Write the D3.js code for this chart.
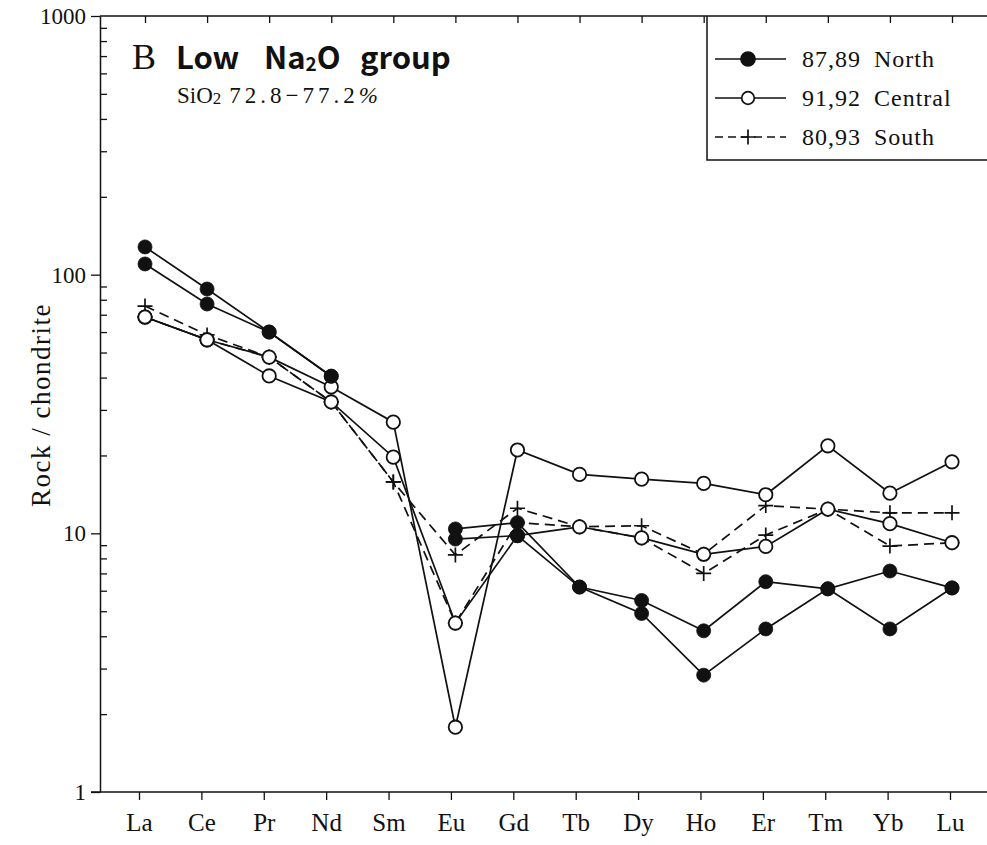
<!DOCTYPE html>
<html>
<head>
<meta charset="utf-8">
<script src="https://cdn.jsdelivr.net/npm/d3@7"></script>
<style>
  body { margin: 0; background: #fff; }
  svg { display: block; }
  text { fill: #111; }
</style>
</head>
<body>
<svg id="chart"></svg>
<script>
// REE pattern, chondrite normalised
let elements = ['La','Ce','Pr','Nd','Sm','Eu','Gd','Tb','Dy','Ho','Er','Tm','Yb','Lu'];
let north87 = [128, 88, 60, 40.5, null, 10.4, 11.0, 6.2, 5.5, 4.2, 6.5, 6.1, 7.15, 6.15];
let north89 = [110, 77, 60, 40.5, null, 9.5, 9.8, 6.2, 4.9, 2.83, 4.27, 6.1, 4.27, 6.15];
let central91 = [68.6, 56, 48, 36.8, 26.9, 1.78, 21, 16.9, 16.2, 15.6, 14.1, 21.8, 14.3, 18.9];
let central92 = [68.6, 56, 40.6, 32.2, 19.7, 4.5, 9.8, 10.6, 9.6, 8.3, 8.9, 12.4, 10.9, 9.2];
let south80 = [75.6, 58.5, 48, 32.2, 15.8, 8.25, 12.5, 10.6, 10.7, 8.3, 12.8, 12.4, 12.0, 12.0];
let south93 = [68.6, 56, 48, 32.2, 15.8, 4.5, 11.0, 10.6, 9.6, 7.0, 9.85, 12.4, 8.93, 9.2];
let yTicks = [1, 10, 100, 1000];
let legendLabels = ['87,89 North', '91,92 Central', '80,93 South'];

let w = 987;
let h = 845;
let mLeft = 100, mTop = 16, mBottom = 792, mRight = 987;
let svg = d3.select('#chart').attr('width', w).attr('height', h);

let xScale = d3.scalePoint().domain(elements).range([145, 952]);
let xBottom = d3.scalePoint().domain(elements).range([139, 950]); // labels sit a touch left in the scan
let yScale = d3.scaleLog().domain([1, 1000]).range([mBottom, mTop]);

let serif = '"Liberation Serif", "DejaVu Serif", serif';
let sans = '"Noto Sans CJK JP", "DejaVu Sans", sans-serif';

// frame lines (right side is cut off in the original)
svg.append('line').attr('x1', mLeft).attr('x2', mRight).attr('y1', mTop).attr('y2', mTop)
  .attr('stroke', '#111').attr('stroke-width', 1.5);

// bottom axis
let xAxis = d3.axisBottom(xBottom).tickSize(8).tickPadding(10).tickSizeOuter(0);
let gx = svg.append('g').attr('transform', 'translate(0,' + mBottom + ')').call(xAxis);
gx.select('.domain').attr('d', 'M' + (mLeft - 9) + ',0H' + mRight).attr('stroke', '#111').attr('stroke-width', 1.5);
gx.selectAll('.tick line').attr('stroke', '#111').attr('stroke-width', 1.3);
gx.selectAll('.tick text').attr('font-family', serif).attr('font-size', 25).attr('dy', '0.85em');

// top ticks, pointing in
let topAxis = d3.axisBottom(xScale).tickSize(7).tickFormat('').tickSizeOuter(0);
let gt = svg.append('g').attr('transform', 'translate(0,' + mTop + ')').call(topAxis);
gt.select('.domain').remove();
gt.selectAll('.tick line').attr('stroke', '#111').attr('stroke-width', 1.3);

// left axis: majors outside, minors inside
let minor = [];
for (let d = 1; d < 1000; d *= 10) {
  for (let k = 2; k <= 9; k++) minor.push(d * k);
}
let yAxis = d3.axisLeft(yScale).tickValues(yTicks).tickSize(9).tickPadding(5)
  .tickFormat(d3.format('d')).tickSizeOuter(0);
let gy = svg.append('g').attr('transform', 'translate(' + mLeft + ',0)').call(yAxis);
gy.select('.domain').attr('stroke', '#111').attr('stroke-width', 1.5);
gy.selectAll('.tick line').attr('stroke', '#111').attr('stroke-width', 1.3);
gy.selectAll('.tick text').attr('font-family', serif).attr('font-size', 23);

let yMinor = d3.axisRight(yScale).tickValues(minor).tickSize(7).tickFormat('').tickSizeOuter(0);
let gm = svg.append('g').attr('transform', 'translate(' + mLeft + ',0)').call(yMinor);
gm.select('.domain').remove();
gm.selectAll('.tick line').attr('stroke', '#111').attr('stroke-width', 1.3);

svg.append('text')
  .attr('transform', 'translate(50,405) rotate(-90)')
  .attr('text-anchor', 'middle')
  .attr('font-family', serif).attr('font-size', 27).attr('letter-spacing', 1.5)
  .text('Rock / chondrite');

// series
let series = [
  {vals: south80, dash: '10,6', mark: 'plus'},
  {vals: south93, dash: '10,6', mark: 'plus'},
  {vals: central91, dash: null, mark: 'open'},
  {vals: central92, dash: null, mark: 'open'},
  {vals: north87, dash: null, mark: 'filled'},
  {vals: north89, dash: null, mark: 'filled'}
];

let line = d3.line()
  .defined(d => d != null)
  .x((d, i) => xScale(elements[i]))
  .y(d => yScale(d));

series.forEach(s => {
  svg.append('path')
    .attr('d', line(s.vals))
    .attr('fill', 'none')
    .attr('stroke', '#111')
    .attr('stroke-width', 1.7)
    .attr('stroke-dasharray', s.dash);
});

let pts = s => s.vals.map((v, i) => ({x: xScale(elements[i]), v: v})).filter(p => p.v != null);

let drawPlus = (g, x, y, a) => {
  g.append('path')
    .attr('d', 'M' + (x - a) + ',' + y + 'H' + (x + a) + 'M' + x + ',' + (y - a) + 'V' + (y + a))
    .attr('stroke', '#111').attr('stroke-width', 1.7);
};

['plus', 'open', 'filled'].forEach(kind => {
  series.filter(s => s.mark === kind).forEach(s => {
    pts(s).forEach(p => {
      let y = yScale(p.v);
      if (kind === 'plus') drawPlus(svg, p.x, y, 7.5);
      else svg.append('circle').attr('cx', p.x).attr('cy', y)
        .attr('r', kind === 'open' ? 6.7 : 7)
        .attr('fill', kind === 'open' ? '#fff' : '#111')
        .attr('stroke', '#111').attr('stroke-width', kind === 'open' ? 1.8 : 0.8);
    });
  });
});

// title
svg.append('text').attr('x', 132).attr('y', 69)
  .attr('font-family', serif).attr('font-size', 36).text('B');
let tg = svg.append('g').attr('font-family', sans).attr('font-weight', 700).attr('font-size', 31);
tg.append('text').attr('x', 176).attr('y', 69).text('Low');
let na = tg.append('text').attr('x', 264).attr('y', 69);
na.append('tspan').text('Na');
na.append('tspan').attr('font-size', 19).attr('dy', 2).text('2');
na.append('tspan').attr('dy', -2).text('O');
tg.append('text').attr('x', 360).attr('y', 69).text('group');

let sub = svg.append('text').attr('x', 177).attr('y', 103)
  .attr('font-family', serif).attr('font-size', 23);
sub.append('tspan').text('SiO');
sub.append('tspan').attr('font-size', 17).attr('dy', 1).text('2');
sub.append('tspan').attr('dy', -1).attr('dx', 8).attr('letter-spacing', 4).text('72.8\u221277.2');
sub.append('tspan').attr('font-style', 'italic').text('%');

// legend
let lg = svg.append('g');
lg.append('path').attr('d', 'M707,' + mTop + 'V160H' + mRight)
  .attr('fill', 'none').attr('stroke', '#111').attr('stroke-width', 1.5);
let legendRows = [
  {y: 59, dash: null, mark: 'filled'},
  {y: 98, dash: null, mark: 'open'},
  {y: 137, dash: '8,5', mark: 'plus'}
];
legendRows.forEach((r, i) => {
  lg.append('line').attr('x1', 715).attr('x2', 786).attr('y1', r.y).attr('y2', r.y)
    .attr('stroke', '#111').attr('stroke-width', 1.7).attr('stroke-dasharray', r.dash);
  if (r.mark === 'plus') drawPlus(lg, 748, r.y, 7.5);
  else lg.append('circle').attr('cx', 748).attr('cy', r.y).attr('r', r.mark === 'open' ? 6.3 : 7)
    .attr('fill', r.mark === 'open' ? '#fff' : '#111').attr('stroke', '#111').attr('stroke-width', 1.7);
  lg.append('text').attr('x', 802).attr('y', r.y + 8)
    .attr('font-family', serif).attr('font-size', 24)
    .attr('letter-spacing', 1).attr('word-spacing', 6)
    .text(legendLabels[i]);
});
</script>
</body>
</html>
